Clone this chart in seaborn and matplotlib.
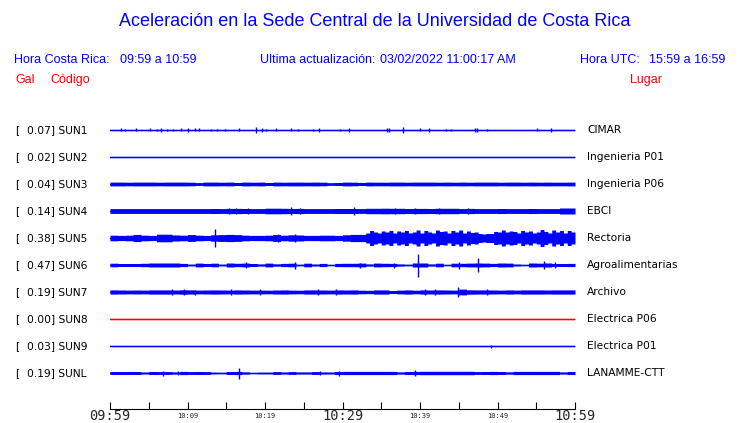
import numpy as np
import matplotlib
matplotlib.use("Agg")
import matplotlib.pyplot as plt
import seaborn as sns
import pandas as pd

# ---------------- data ----------------
stations = ["SUN1", "SUN2", "SUN3", "SUN4", "SUN5", "SUN6", "SUN7", "SUN8", "SUN9", "SUNL"]
peak_gal = ["0.07", "0.02", "0.04", "0.14", "0.38", "0.47", "0.19", "0.00", "0.03", "0.19"]
places = ["CIMAR", "Ingenieria P01", "Ingenieria P06", "EBCI", "Rectoria",
          "Agroalimentarias", "Archivo", "Electrica P06", "Electrica P01", "LANAMME-CTT"]
trace_colors = ["#0000ff"] * 7 + ["#ff0000"] + ["#0000ff"] * 2
tick_minutes = [0, 5, 10, 15, 20, 25, 30, 35, 40, 45, 50, 55, 60]
tick_labels = ["09:59", "", "10:09", "", "10:19", "", "10:29", "", "10:39", "", "10:49", "", "10:59"]

# envelope half-amplitudes (pixels), evenly spread over the hour
env_sun1 = [0.6]
env_sun2 = [0.6]
env_sun3 = [1.9, 1.9, 1.8, 1.9, 1.9, 1.9, 1.8, 1.9, 1.9, 1.9, 1.8, 1.4, 1.9, 1.9, 1.8, 1.9, 1.5, 1.9, 1.8, 1.9,
            1.5, 1.9, 1.8, 1.9, 1.9, 1.8, 1.9, 1.8, 1.3, 1.5, 1.9, 1.8, 1.5, 1.9, 1.8, 1.8, 1.9, 1.9, 1.8, 1.9,
            1.9, 1.9, 1.8, 1.9, 1.8, 1.9, 1.8, 1.9, 1.9, 1.9, 1.8, 1.9, 1.9, 1.8, 1.9, 1.8, 1.9, 1.8, 1.8, 1.9]
env_sun4 = [2.4, 2.4, 2.4, 2.4, 2.4, 2.4, 2.4, 2.4, 2.4, 2.4, 2.4, 2.4, 2.4, 2.5, 2.4, 2.6, 2.6, 2.5, 2.4, 2.4,
            2.8, 2.8, 2.7, 2.5, 2.6, 2.4, 2.4, 2.4, 2.4, 2.5, 2.5, 2.5, 2.4, 2.7, 2.7, 2.8, 2.7, 2.7, 2.5, 2.6,
            2.6, 2.5, 2.7, 2.7, 2.7, 2.4, 2.6, 2.4, 2.4, 2.4, 2.5, 2.4, 2.4, 2.4, 2.5, 2.4, 2.4, 2.4, 3.0, 3.0]
env_sun5 = [2.8, 2.8, 2.6, 2.6, 2.8, 2.8, 3.6, 3.6, 2.8, 2.8, 2.6, 2.6, 3.8, 3.8, 3.8, 3.8, 3.0, 3.0, 2.8, 2.8,
            3.4, 3.4, 2.8, 2.8, 2.6, 2.6, 3.2, 3.2, 3.4, 3.4, 3.6, 3.6, 3.4, 3.4, 2.8, 2.8, 2.6, 2.6, 2.6, 2.6,
            2.8, 2.8, 3.4, 3.4, 2.8, 2.8, 3.2, 3.2, 3.0, 3.0, 2.6, 2.6, 2.6, 2.6, 2.8, 2.8, 2.8, 2.8, 2.6, 2.6,
            3.2, 3.2, 3.6, 3.6, 3.6, 3.6,
            5.0, 7.5, 6.0, 5.0, 7.0, 6.0, 7.5, 5.0, 7.0, 6.0, 7.5, 5.0, 6.0, 8.0, 5.0, 7.5, 6.0, 5.0, 8.0, 6.5,
            7.0, 5.0, 7.5, 6.0, 8.0, 5.0, 7.0, 5.5, 6.0, 4.5, 4.0, 4.5, 4.5, 6.5, 6.0, 8.0, 6.0, 7.0, 6.5, 5.0,
            7.5, 6.0, 7.0, 5.0, 6.0, 8.5, 6.5, 5.0, 8.0, 6.0, 7.5, 5.0, 7.5, 6.0]
env_sun6 = [1.8, 1.5, 1.5, 1.5, 1.7, 2.0, 2.0, 2.0, 2.0, 1.6, 0.8, 1.9, 1.5, 1.8, 0.8, 2.0, 1.7, 1.9, 1.5, 1.0,
            1.9, 1.1, 1.6, 1.8, 0.7, 1.8, 0.9, 1.6, 0.6, 1.6, 1.7, 1.7, 1.9, 1.0, 1.9, 1.7, 1.6, 1.0, 0.7, 2.0,
            2.0, 1.0, 1.8, 0.6, 1.8, 1.7, 1.9, 2.0, 1.9, 1.6, 2.0, 1.9, 0.9, 0.6, 2.0, 1.8, 2.0, 1.5, 1.5, 1.6]
env_sun7 = [2.1, 2.0, 1.9, 2.0, 1.9, 2.1, 2.1, 2.1, 2.0, 2.2, 2.1, 1.9, 2.0, 2.1, 2.0, 1.9, 2.1, 2.0, 1.9, 1.9,
            1.8, 2.0, 2.1, 1.9, 1.8, 2.1, 2.1, 2.0, 1.9, 2.1, 2.0, 2.1, 1.8, 1.7, 2.1, 2.1, 1.5, 1.9, 2.1, 1.8,
            2.1, 2.0, 2.1, 2.0, 1.9, 2.9, 2.2, 2.1, 2.1, 2.0, 1.9, 2.1, 1.9, 2.1, 2.1, 2.1, 2.0, 2.1, 2.1, 2.1]
env_sun8 = [0.6]
env_sun9 = [0.6]
env_sunl = [1.5, 1.5, 1.5, 1.5, 0.9, 1.5, 1.4, 1.4, 1.0, 1.6, 1.4, 1.5, 1.4, 0.8, 0.7, 1.5, 1.6, 1.1, 0.6, 0.8,
            0.8, 1.4, 1.0, 1.4, 1.0, 1.0, 1.4, 1.0, 0.9, 1.5, 1.6, 1.6, 1.6, 1.6, 1.6, 1.6, 1.6, 1.0, 1.5, 1.6,
            1.7, 1.7, 1.7, 1.7, 1.7, 1.7, 1.7, 1.4, 1.5, 1.6, 1.5, 1.1, 1.6, 1.6, 1.6, 1.6, 1.6, 1.6, 1.0, 1.5]

# isolated spikes: (minute after 09:59, half-amplitude in pixels)
spikes_sun1 = [(1.4, 1.5), (1.9, 1.2), (3.3, 1.5), (5.2, 1.5), (6.0, 1.2), (6.6, 1.8), (7.3, 1.2), (8.1, 1.2),
               (9.2, 1.5), (10.0, 1.8), (11.0, 1.5), (11.5, 1.5), (13.0, 1.2), (13.8, 1.2), (14.8, 1.2),
               (16.6, 1.5), (18.9, 3.0), (19.6, 1.8), (20.1, 1.2), (21.4, 1.5), (23.3, 1.5), (24.3, 1.2),
               (26.2, 1.2), (27.0, 1.8), (29.7, 1.2), (30.9, 1.8), (35.7, 1.8), (36.0, 1.8), (37.8, 2.8),
               (40.0, 1.5), (41.1, 1.8), (43.4, 1.2), (44.0, 1.2), (47.1, 1.8), (47.4, 1.8), (48.7, 1.2),
               (55.1, 1.5), (56.9, 1.8)]
spikes_sun2 = []
spikes_sun3 = []
spikes_sun4 = [(15.3, 2.8), (16.3, 2.8), (17.8, 2.6), (23.4, 3.8), (24.5, 2.8), (31.5, 3.8), (36.8, 2.8),
               (39.4, 2.6), (42.4, 2.6), (46.2, 2.8)]
spikes_sun5 = [(13.5, 9.3), (21.7, 4.0), (23.9, 3.6)]
spikes_sun6 = [(17.6, 3.0), (23.9, 3.5), (32.3, 2.5), (36.6, 2.5), (39.8, 11.5), (45.0, 3.5), (47.5, 7.0),
               (56.0, 4.0), (57.4, 3.0)]
spikes_sun7 = [(8.0, 3.0), (9.6, 2.8), (11.0, 2.5), (15.6, 2.8), (19.4, 2.8), (26.9, 2.8), (29.1, 2.8),
               (40.6, 3.2), (41.9, 2.8), (44.9, 5.0), (48.7, 2.8)]
spikes_sun8 = []
spikes_sun9 = [(49.2, 1.5)]
spikes_sunl = [(6.9, 2.5), (8.8, 2.0), (16.7, 5.5), (27.1, 2.0), (29.5, 2.5), (39.4, 3.0)]

envelopes = [env_sun1, env_sun2, env_sun3, env_sun4, env_sun5, env_sun6, env_sun7, env_sun8, env_sun9, env_sunl]
spikes = [spikes_sun1, spikes_sun2, spikes_sun3, spikes_sun4, spikes_sun5, spikes_sun6, spikes_sun7,
          spikes_sun8, spikes_sun9, spikes_sunl]

# ---------------- figure ----------------
sns.set_style("white")
W, H = 740, 423
fig = plt.figure(figsize=(W / 100, H / 100), dpi=100)
fig.patch.set_facecolor("white")

ROW_PX = 27.0
top_px, bot_px, row0_px = 120, 409, 130
ax = fig.add_axes([110 / W, 1 - bot_px / H, 465 / W, (bot_px - top_px) / H])

blue = "#0000ff"
red = "#ff0000"

for i, (env, spk, col) in enumerate(zip(envelopes, spikes, trace_colors)):
    a = np.asarray(env, dtype=float) / ROW_PX
    n = len(a)
    edges = np.linspace(0, 60, n + 1)
    av = np.append(a, a[-1])
    poly = ax.fill_between(edges, i - av, i + av, step="post", color=col, linewidth=0)
    poly.set_snap(False)
    base = pd.DataFrame({"t": [0.0, 60.0], "y": [float(i), float(i)]})
    sns.lineplot(data=base, x="t", y="y", ax=ax, color=col, lw=1.05, estimator=None, legend=False)
    if spk:
        sm = np.array([s[0] for s in spk])
        sa = np.array([s[1] for s in spk]) / ROW_PX
        ax.vlines(sm, i - sa, i + sa, color=col, lw=1.0)

ax.set_xlim(0, 60)
ax.set_ylim((bot_px - row0_px) / ROW_PX, (top_px - row0_px) / ROW_PX)

for s in ["left", "right", "top"]:
    ax.spines[s].set_visible(False)
ax.spines["bottom"].set_color("black")
ax.spines["bottom"].set_linewidth(0.8)
ax.set_yticks([])
ax.set_xlabel("")
ax.set_ylabel("")
ax.set_xticks(tick_minutes)
ax.set_xticklabels(tick_labels)
ax.tick_params(axis="x", direction="in", length=5.2, width=0.8, color="black", pad=4.8, bottom=True)
for lab, m in zip(ax.get_xticklabels(), tick_minutes):
    lab.set_va("center")
    lab.set_family("DejaVu Sans Mono")
    if m in (0, 30, 60):
        lab.set_fontsize(9.8)
    else:
        lab.set_fontsize(5.0)

# station labels
for i, (st, pk, pl) in enumerate(zip(stations, peak_gal, places)):
    ypx = row0_px + i * ROW_PX
    yf = 1 - ypx / H
    fig.text(15 / W, yf, "[", fontsize=7.7, family="DejaVu Sans", va="center", ha="left", color="black")
    fig.text(27 / W, yf, f"{pk}] {st}", fontsize=7.7, family="DejaVu Sans", va="center", ha="left", color="black")
    fig.text(587 / W, yf, pl, fontsize=7.7, family="DejaVu Sans", va="center", ha="left", color="black")

# header
hf = "Liberation Sans"
fig.text(375 / W, 1 - 22 / H, "Aceleración en la Sede Central de la Universidad de Costa Rica",
         fontsize=13, family=hf, color=blue, ha="center", va="center")
y1 = 1 - 60 / H
fig.text(14 / W, y1, "Hora Costa Rica:", fontsize=9, family=hf, color=blue, va="center")
fig.text(120 / W, y1, "09:59 a 10:59", fontsize=9, family=hf, color=blue, va="center")
fig.text(260 / W, y1, "Ultima actualización:", fontsize=9, family=hf, color=blue, va="center")
fig.text(380 / W, y1, "03/02/2022 11:00:17 AM", fontsize=9, family=hf, color=blue, va="center")
fig.text(580 / W, y1, "Hora UTC:", fontsize=9, family=hf, color=blue, va="center")
fig.text(725 / W, y1, "15:59 a 16:59", fontsize=9, family=hf, color=blue, va="center", ha="right")
y2 = 1 - 80 / H
fig.text(15 / W, y2, "Gal", fontsize=9, family=hf, color=red, va="center")
fig.text(50 / W, y2, "Código", fontsize=9, family=hf, color=red, va="center")
fig.text(662 / W, y2, "Lugar", fontsize=9, family=hf, color=red, va="center", ha="right")

fig.savefig("out.png", dpi=100, facecolor="white")
